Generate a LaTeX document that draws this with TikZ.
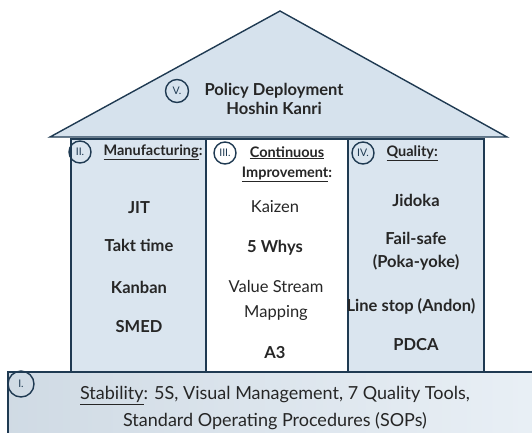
\documentclass[tikz,border=0pt]{standalone}
\usepackage{fontspec}
\setmainfont{Lato}
\begin{document}
\begin{tikzpicture}[x=1pt,y=-1pt,
  edge/.style={draw=navy,line width=1.4pt,line join=miter},
  numc/.style={circle,draw=navy,line width=1.4pt,minimum size=#1,inner sep=0pt,font=\fontsize{10.5}{11}\selectfont,text=navy},
  item/.style={font=\fontsize{16.5}{18}\selectfont\bfseries,text=txt,align=center},
  itemm/.style={font=\fontsize{16.5}{18}\selectfont,text=txt,align=center},
  head/.style={font=\fontsize{14.5}{20}\selectfont\bfseries,text=txt,align=center},
  basetxt/.style={font=\fontsize{18}{27}\selectfont,text=txt,align=center}]
\definecolor{navy}{HTML}{1F3A52}
\definecolor{txt}{HTML}{262626}
\definecolor{rooffill}{HTML}{D6E2ED}
\definecolor{pilfill}{HTML}{DAE5EF}
\useasboundingbox (0,0) rectangle (532,432);
% base
\shade[left color=rooffill!90!navy!80,right color=pilfill!60!white] (8,372) rectangle (540,440);
\draw[edge] (540,372) -- (8,372) -- (8,440);
% pillars
\draw[edge,fill=pilfill] (71,139) rectangle (206,372);
\draw[edge,fill=white] (206,139) rectangle (348,372);
\draw[edge,fill=pilfill] (348,139) rectangle (484,372);
% roof
\draw[edge,fill=rooffill] (50,137) -- (280,11) -- (507,137) -- cycle;
% roof text
\node[numc=23pt] (c5) at (177,91) {V.};
\node[head,font=\fontsize{16.5}{18}\selectfont\bfseries] (roof1) at (274,91) {Policy Deployment};
\node[head,font=\fontsize{16.5}{18}\selectfont\bfseries] (roof2) at (274,108) {Hoshin Kanri};
% headers
\node[numc=22pt] (c2) at (80,152) {II.};
\node[head,anchor=west] (h2) at (100,152) {\underline{Manufacturing}:};
\node[numc=22pt] (c3) at (225,153) {III.};
\node[head] (h3) at (287,164) {\underline{Continuous}\\\underline{Improvement}:};
\node[numc=22pt] (c4) at (363,153) {IV.};
\node[head,anchor=west] (h4) at (383,153) {\underline{Quality:}};
% left items
\node[item] (jit) at (139,208) {JIT};
\node[item] (takt) at (139,245) {Takt time};
\node[item] (kanban) at (139,287) {Kanban};
\node[item] (smed) at (139,327) {SMED};
% middle items
\node[itemm] (kaizen) at (275,207) {Kaizen};
\node[item] (whys) at (275,248) {5 Whys};
\node[itemm,font=\fontsize{16.5}{25}\selectfont] (vsm) at (276,300) {Value Stream\\Mapping};
\node[item] (a3) at (275,353) {A3};
% right items
\node[item] (jidoka) at (416,200) {Jidoka};
\node[item,font=\fontsize{16.5}{23}\selectfont\bfseries] (fail) at (416,251) {Fail-safe\\(Poka-yoke)};
\node[item] (line) at (411,306) {Line stop (Andon)};
\node[item] (pdca) at (416,345) {PDCA};
% base
\node[numc=26pt] (c1) at (21,384) {I.};
\node[basetxt] (stab) at (275,408) {\underline{Stability}: 5S, Visual Management, 7 Quality Tools,\\Standard Operating Procedures (SOPs)};
\end{tikzpicture}
\end{document}
